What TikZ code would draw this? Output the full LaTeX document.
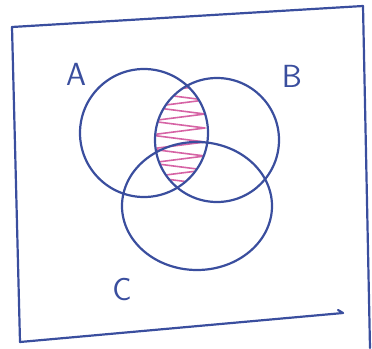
\documentclass[tikz,border=0pt]{standalone}
\usepackage{xcolor}
\usepackage{tikz}
\usetikzlibrary{shapes.geometric}
\definecolor{penblue}{RGB}{58,78,158}
\definecolor{penpink}{RGB}{214,100,165}

\begin{document}
\begin{tikzpicture}[x=1pt,y=-1pt,
    pen/.style={draw=penblue,line width=2.2pt,line cap=round,line join=round},
    setname/.style={text=penblue,font=\fontsize{32}{34}\selectfont\sffamily},
    hatch/.style={draw=penpink,line width=1.6pt,line join=round}]
            \useasboundingbox (0,0) rectangle (372,348);
            % universe box
            \draw[pen] (12,27) -- (363,6);
            \draw[pen] (363,6) -- (370,348);
            \draw[pen] (12,27) -- (20,342);
            \draw[pen] (20,342) -- (343,313) -- (338,310);
            
            % shaded part A and B
            \begin{scope}
                \clip (144,133) circle [radius=63];
                \clip (217,140) circle [radius=61];
                \draw[hatch] (150,80) -- (200,86) -- (150,93) -- (205,100) -- (150,107) -- (205,114)
                    -- (150,121) -- (205,128) -- (150,135) -- (205,142) -- (150,149) -- (205,156)
                    -- (150,163) -- (205,170) -- (150,177) -- (205,184) -- (150,191) -- (205,198);
            \end{scope}
            
            % the three sets
            \node[pen,circle,minimum size=128pt,inner sep=0pt] (A) at (144,133) {};
            \node[pen,circle,minimum size=124pt,inner sep=0pt] (B) at (217,140) {};
            \node[pen,ellipse,minimum width=150pt,minimum height=128pt,inner sep=0pt] (C) at (197,206) {};
            
            \node[setname] (labA) at (76,74) {A};
            \node[setname] (labB) at (292,76) {B};
            \node[setname] (labC) at (122,290) {C};
         \end{tikzpicture}
\end{document}
